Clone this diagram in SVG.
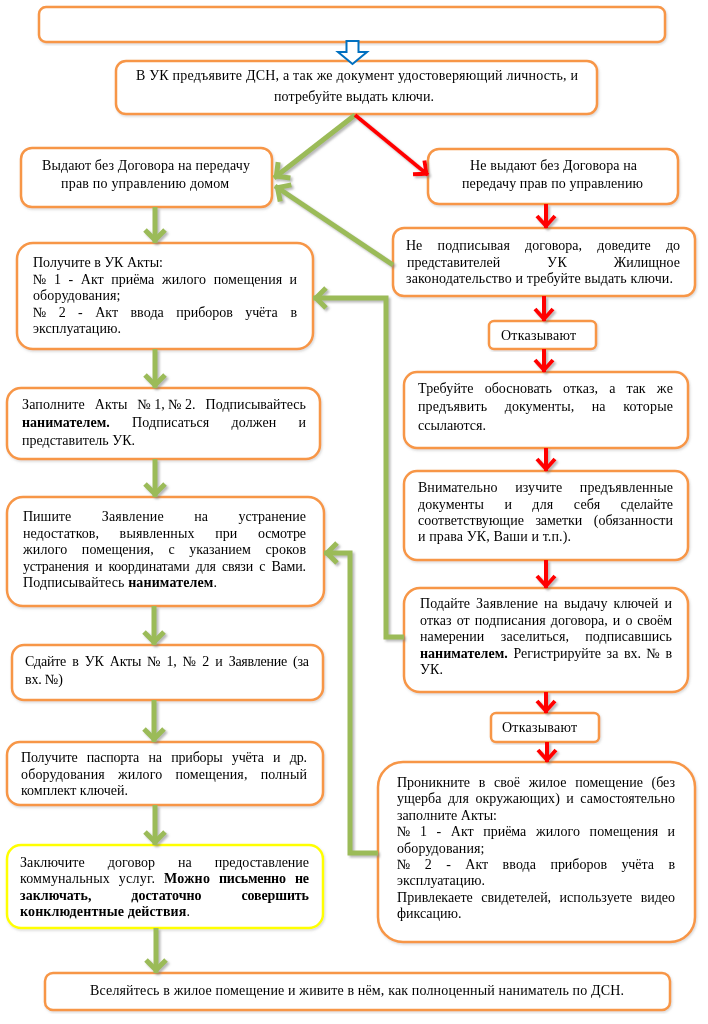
<svg xmlns="http://www.w3.org/2000/svg" width="708" height="1024" viewBox="0 0 708 1024">
<defs>
<style>
.bx{fill:#fff;stroke:#F79646;stroke-width:2.5}
.yb{fill:#fff;stroke:#FFFF00;stroke-width:2.5}
.t{font-family:"Liberation Serif","Times New Roman",serif;font-size:14px;fill:#000}
.b{font-weight:bold}
.g{fill:none;stroke:#9BBB59;stroke-width:5}
.r{fill:none;stroke:#FF0000;stroke-width:4}
</style>
<filter id="sh" x="-20%" y="-20%" width="140%" height="140%">
<feDropShadow dx="2" dy="2" stdDeviation="1" flood-color="#808080" flood-opacity="0.55"/>
</filter>
<filter id="bs" x="-5%" y="-5%" width="110%" height="115%">
<feDropShadow dx="1" dy="1.5" stdDeviation="1" flood-color="#808080" flood-opacity="0.3"/>
</filter>
<marker id="ag" markerUnits="userSpaceOnUse" markerWidth="20" markerHeight="24" refX="0" refY="0" orient="auto" overflow="visible">
<path d="M-13,-10 L-3,0 L-13,10" fill="none" stroke="#9BBB59" stroke-width="5"/>
</marker>
<marker id="ar" markerUnits="userSpaceOnUse" markerWidth="20" markerHeight="24" refX="0" refY="0" orient="auto" overflow="visible">
<path d="M-12,-9 L-2,0 L-12,9" fill="none" stroke="#FF0000" stroke-width="4"/>
</marker>
</defs>
<rect width="708" height="1024" fill="#fff"/>

<g id="n0" filter="url(#bs)"><rect class="bx" x="39" y="7" width="626" height="35" rx="7"/></g>

<g id="n1" filter="url(#bs)"><rect class="bx" x="116" y="61" width="481" height="53" rx="10"/>
<text class="t" x="136" y="80" textLength="442" lengthAdjust="spacing">В УК предъявите ДСН, а так же документ удостоверяющий личность, и</text>
<text class="t" x="274" y="101" textLength="160" lengthAdjust="spacing">потребуйте выдать ключи.</text></g>

<g id="n2" filter="url(#bs)"><rect class="bx" x="21" y="148" width="251" height="59" rx="11"/>
<text class="t" x="42" y="170" textLength="208" lengthAdjust="spacing">Выдают без Договора на передачу</text>
<text class="t" x="61" y="188" textLength="168" lengthAdjust="spacing">прав по управлению домом</text></g>

<g id="n3" filter="url(#bs)"><rect class="bx" x="428" y="149" width="250" height="55" rx="11"/>
<text class="t" x="470" y="170" textLength="167" lengthAdjust="spacing">Не выдают без Договора на</text>
<text class="t" x="462" y="188" textLength="181" lengthAdjust="spacing">передачу прав по управлению</text></g>

<g id="n4" filter="url(#bs)"><rect class="bx" x="393" y="228" width="302" height="68" rx="11"/>
<text class="t" x="406" y="250" textLength="16.3" lengthAdjust="spacing">Не</text>
<text class="t" x="437.6" y="250" textLength="72.3" lengthAdjust="spacing">подписывая</text>
<text class="t" x="525.1" y="250" textLength="56.9" lengthAdjust="spacing">договора,</text>
<text class="t" x="597.3" y="250" textLength="53.5" lengthAdjust="spacing">доведите</text>
<text class="t" x="666" y="250" textLength="14" lengthAdjust="spacing">до</text>
<text class="t" x="407" y="267" textLength="93.2" lengthAdjust="spacing">представителей</text>
<text class="t" x="547" y="267" textLength="19.9" lengthAdjust="spacing">УК</text>
<text class="t" x="613.8" y="267" textLength="66.2" lengthAdjust="spacing">Жилищное</text>
<text class="t" x="406" y="283" textLength="267" lengthAdjust="spacing">законодательство и требуйте выдать ключи.</text></g>

<g id="n5" filter="url(#bs)"><rect class="bx" x="489" y="321" width="107" height="28" rx="5"/>
<text class="t" x="501" y="340" textLength="75" lengthAdjust="spacing">Отказывают</text></g>

<g id="n6" filter="url(#bs)"><rect class="bx" x="404" y="372" width="284" height="76" rx="13"/>
<text class="t" x="418" y="393" textLength="55.5" lengthAdjust="spacing">Требуйте</text>
<text class="t" x="484.7" y="393" textLength="67.1" lengthAdjust="spacing">обосновать</text>
<text class="t" x="563" y="393" textLength="35.1" lengthAdjust="spacing">отказ,</text>
<text class="t" x="609.2" y="393" textLength="6.2" lengthAdjust="spacing">а</text>
<text class="t" x="626.6" y="393" textLength="19" lengthAdjust="spacing">так</text>
<text class="t" x="656.7" y="393" textLength="16.3" lengthAdjust="spacing">же</text>
<text class="t" x="418" y="411" textLength="69.1" lengthAdjust="spacing">предъявить</text>
<text class="t" x="504.8" y="411" textLength="69.4" lengthAdjust="spacing">документы,</text>
<text class="t" x="591.8" y="411" textLength="13.7" lengthAdjust="spacing">на</text>
<text class="t" x="623.2" y="411" textLength="49.8" lengthAdjust="spacing">которые</text>
<text class="t" x="418" y="430" textLength="68" lengthAdjust="spacing">ссылаются.</text></g>

<g id="n7" filter="url(#bs)"><rect class="bx" x="404" y="471" width="284" height="89" rx="13"/>
<text class="t" x="418" y="492" textLength="79.5" lengthAdjust="spacing">Внимательно</text>
<text class="t" x="515.3" y="492" textLength="46.8" lengthAdjust="spacing">изучите</text>
<text class="t" x="579.8" y="492" textLength="93.2" lengthAdjust="spacing">предъявленные</text>
<text class="t" x="418" y="508.5" textLength="65.9" lengthAdjust="spacing">документы</text>
<text class="t" x="504.4" y="508.5" textLength="7.5" lengthAdjust="spacing">и</text>
<text class="t" x="532.3" y="508.5" textLength="21" lengthAdjust="spacing">для</text>
<text class="t" x="573.8" y="508.5" textLength="26.4" lengthAdjust="spacing">себя</text>
<text class="t" x="620.6" y="508.5" textLength="52.4" lengthAdjust="spacing">сделайте</text>
<text class="t" x="418" y="525" textLength="105.9" lengthAdjust="spacing">соответствующие</text>
<text class="t" x="535.4" y="525" textLength="46.9" lengthAdjust="spacing">заметки</text>
<text class="t" x="593.8" y="525" textLength="79.2" lengthAdjust="spacing">(обязанности</text>
<text class="t" x="418" y="541" textLength="153" lengthAdjust="spacing">и права УК, Ваши и т.п.).</text></g>

<g id="n8" filter="url(#bs)"><rect class="bx" x="404" y="588" width="284" height="104" rx="16"/>
<text class="t" x="420" y="608" textLength="50" lengthAdjust="spacing">Подайте</text>
<text class="t" x="476.1" y="608" textLength="61.9" lengthAdjust="spacing">Заявление</text>
<text class="t" x="544.1" y="608" textLength="13.7" lengthAdjust="spacing">на</text>
<text class="t" x="563.9" y="608" textLength="43.6" lengthAdjust="spacing">выдачу</text>
<text class="t" x="613.6" y="608" textLength="44.8" lengthAdjust="spacing">ключей</text>
<text class="t" x="664.5" y="608" textLength="7.5" lengthAdjust="spacing">и</text>
<text class="t" x="420" y="624.5" textLength="31.6" lengthAdjust="spacing">отказ</text>
<text class="t" x="456.7" y="624.5" textLength="13" lengthAdjust="spacing">от</text>
<text class="t" x="474.8" y="624.5" textLength="70.9" lengthAdjust="spacing">подписания</text>
<text class="t" x="550.8" y="624.5" textLength="56.9" lengthAdjust="spacing">договора,</text>
<text class="t" x="612.8" y="624.5" textLength="7.5" lengthAdjust="spacing">и</text>
<text class="t" x="625.4" y="624.5" textLength="7" lengthAdjust="spacing">о</text>
<text class="t" x="637.3" y="624.5" textLength="34.7" lengthAdjust="spacing">своём</text>
<text class="t" x="420" y="641" textLength="64.3" lengthAdjust="spacing">намерении</text>
<text class="t" x="500.8" y="641" textLength="68.1" lengthAdjust="spacing">заселиться,</text>
<text class="t" x="585.3" y="641" textLength="86.7" lengthAdjust="spacing">подписавшись</text>
<text class="t b" x="420" y="657.5" textLength="87.8" lengthAdjust="spacing">нанимателем.</text>
<text class="t" x="513.4" y="657.5" textLength="87.6" lengthAdjust="spacing">Регистрируйте</text>
<text class="t" x="606.6" y="657.5" textLength="11.8" lengthAdjust="spacing">за</text>
<text class="t" x="624" y="657.5" textLength="17.1" lengthAdjust="spacing">вх.</text>
<text class="t" x="646.6" y="657.5" textLength="13.3" lengthAdjust="spacing">№</text>
<text class="t" x="665.4" y="657.5" textLength="6.6" lengthAdjust="spacing">в</text>
<text class="t" x="420" y="674" textLength="23" lengthAdjust="spacing">УК.</text></g>

<g id="n9" filter="url(#bs)"><rect class="bx" x="491" y="713" width="108" height="29" rx="5"/>
<text class="t" x="502" y="732" textLength="75" lengthAdjust="spacing">Отказывают</text></g>

<g id="n10" filter="url(#bs)"><rect class="bx" x="378" y="762" width="317" height="180" rx="25"/>
<text class="t" x="397" y="787" textLength="73" lengthAdjust="spacing">Проникните</text>
<text class="t" x="478.7" y="787" textLength="6.6" lengthAdjust="spacing">в</text>
<text class="t" x="494" y="787" textLength="26" lengthAdjust="spacing">своё</text>
<text class="t" x="528.7" y="787" textLength="37.8" lengthAdjust="spacing">жилое</text>
<text class="t" x="575.2" y="787" textLength="67.7" lengthAdjust="spacing">помещение</text>
<text class="t" x="651.5" y="787" textLength="23.5" lengthAdjust="spacing">(без</text>
<text class="t" x="397" y="803.4" textLength="44.4" lengthAdjust="spacing">ущерба</text>
<text class="t" x="447.9" y="803.4" textLength="21" lengthAdjust="spacing">для</text>
<text class="t" x="475.4" y="803.4" textLength="84.4" lengthAdjust="spacing">окружающих)</text>
<text class="t" x="566.3" y="803.4" textLength="7.5" lengthAdjust="spacing">и</text>
<text class="t" x="580.3" y="803.4" textLength="94.7" lengthAdjust="spacing">самостоятельно</text>
<text class="t" x="397" y="819.8" textLength="100" lengthAdjust="spacing">заполните Акты:</text>
<text class="t" x="397" y="836.2" textLength="13.3" lengthAdjust="spacing">№</text>
<text class="t" x="419.9" y="836.2" textLength="7" lengthAdjust="spacing">1</text>
<text class="t" x="436.5" y="836.2" textLength="4.7" lengthAdjust="spacing">-</text>
<text class="t" x="450.8" y="836.2" textLength="22.8" lengthAdjust="spacing">Акт</text>
<text class="t" x="483.2" y="836.2" textLength="43.1" lengthAdjust="spacing">приёма</text>
<text class="t" x="535.9" y="836.2" textLength="44.2" lengthAdjust="spacing">жилого</text>
<text class="t" x="589.6" y="836.2" textLength="68.5" lengthAdjust="spacing">помещения</text>
<text class="t" x="667.5" y="836.2" textLength="7.5" lengthAdjust="spacing">и</text>
<text class="t" x="397" y="852.6" textLength="87.5" lengthAdjust="spacing">оборудования;</text>
<text class="t" x="397" y="869" textLength="13.3" lengthAdjust="spacing">№</text>
<text class="t" x="424.7" y="869" textLength="7" lengthAdjust="spacing">2</text>
<text class="t" x="446.2" y="869" textLength="4.7" lengthAdjust="spacing">-</text>
<text class="t" x="465.3" y="869" textLength="22.8" lengthAdjust="spacing">Акт</text>
<text class="t" x="502.6" y="869" textLength="33.4" lengthAdjust="spacing">ввода</text>
<text class="t" x="550.4" y="869" textLength="56.6" lengthAdjust="spacing">приборов</text>
<text class="t" x="621.4" y="869" textLength="32.5" lengthAdjust="spacing">учёта</text>
<text class="t" x="668.4" y="869" textLength="6.6" lengthAdjust="spacing">в</text>
<text class="t" x="397" y="885.4" textLength="88" lengthAdjust="spacing">эксплуатацию.</text>
<text class="t" x="397" y="901.8" textLength="75.8" lengthAdjust="spacing">Привлекаете</text>
<text class="t" x="481.2" y="901.8" textLength="69.9" lengthAdjust="spacing">свидетелей,</text>
<text class="t" x="559.5" y="901.8" textLength="72.8" lengthAdjust="spacing">используете</text>
<text class="t" x="640.7" y="901.8" textLength="34.3" lengthAdjust="spacing">видео</text>
<text class="t" x="397" y="918.2" textLength="64.5" lengthAdjust="spacing">фиксацию.</text></g>

<g id="n11" filter="url(#bs)"><rect class="bx" x="17" y="243" width="296" height="106" rx="16"/>
<text class="t" x="33" y="267" textLength="130" lengthAdjust="spacing">Получите в УК Акты:</text>
<text class="t" x="33" y="283.5" textLength="13.3" lengthAdjust="spacing">№</text>
<text class="t" x="53.9" y="283.5" textLength="7" lengthAdjust="spacing">1</text>
<text class="t" x="68.5" y="283.5" textLength="4.7" lengthAdjust="spacing">-</text>
<text class="t" x="80.8" y="283.5" textLength="22.8" lengthAdjust="spacing">Акт</text>
<text class="t" x="111.2" y="283.5" textLength="43.1" lengthAdjust="spacing">приёма</text>
<text class="t" x="161.9" y="283.5" textLength="44.2" lengthAdjust="spacing">жилого</text>
<text class="t" x="213.7" y="283.5" textLength="68.5" lengthAdjust="spacing">помещения</text>
<text class="t" x="289.5" y="283.5" textLength="7.5" lengthAdjust="spacing">и</text>
<text class="t" x="33" y="300" textLength="87.5" lengthAdjust="spacing">оборудования;</text>
<text class="t" x="33" y="316.5" textLength="13.3" lengthAdjust="spacing">№</text>
<text class="t" x="58.7" y="316.5" textLength="7" lengthAdjust="spacing">2</text>
<text class="t" x="78.1" y="316.5" textLength="4.7" lengthAdjust="spacing">-</text>
<text class="t" x="95.2" y="316.5" textLength="22.8" lengthAdjust="spacing">Акт</text>
<text class="t" x="130.4" y="316.5" textLength="33.4" lengthAdjust="spacing">ввода</text>
<text class="t" x="176.2" y="316.5" textLength="56.6" lengthAdjust="spacing">приборов</text>
<text class="t" x="245.2" y="316.5" textLength="32.5" lengthAdjust="spacing">учёта</text>
<text class="t" x="290.4" y="316.5" textLength="6.6" lengthAdjust="spacing">в</text>
<text class="t" x="33" y="333" textLength="88" lengthAdjust="spacing">эксплуатацию.</text></g>

<g id="n12" filter="url(#bs)"><rect class="bx" x="7" y="388" width="313" height="71" rx="14"/>
<text class="t" x="22" y="409" textLength="62.6" lengthAdjust="spacing">Заполните</text>
<text class="t" x="94.7" y="409" textLength="32.6" lengthAdjust="spacing">Акты</text>
<text class="t" x="137.4" y="409" textLength="58.1" lengthAdjust="spacing">№ 1, № 2.</text>
<text class="t" x="205.6" y="409" textLength="100.4" lengthAdjust="spacing">Подписывайтесь</text>
<text class="t b" x="22" y="427" textLength="87.8" lengthAdjust="spacing">нанимателем.</text>
<text class="t" x="132" y="427" textLength="77.3" lengthAdjust="spacing">Подписаться</text>
<text class="t" x="231.5" y="427" textLength="44.8" lengthAdjust="spacing">должен</text>
<text class="t" x="298.5" y="427" textLength="7.5" lengthAdjust="spacing">и</text>
<text class="t" x="22" y="445" textLength="113" lengthAdjust="spacing">представитель УК.</text></g>

<g id="n13" filter="url(#bs)"><rect class="bx" x="7" y="497" width="317" height="109" rx="16"/>
<text class="t" x="23" y="521" textLength="48.2" lengthAdjust="spacing">Пишите</text>
<text class="t" x="101.8" y="521" textLength="61.9" lengthAdjust="spacing">Заявление</text>
<text class="t" x="194.3" y="521" textLength="13.7" lengthAdjust="spacing">на</text>
<text class="t" x="238.6" y="521" textLength="67.4" lengthAdjust="spacing">устранение</text>
<text class="t" x="23" y="537.5" textLength="76" lengthAdjust="spacing">недостатков,</text>
<text class="t" x="119.6" y="537.5" textLength="75" lengthAdjust="spacing">выявленных</text>
<text class="t" x="215.2" y="537.5" textLength="22" lengthAdjust="spacing">при</text>
<text class="t" x="257.9" y="537.5" textLength="48.1" lengthAdjust="spacing">осмотре</text>
<text class="t" x="23" y="554" textLength="44.2" lengthAdjust="spacing">жилого</text>
<text class="t" x="81.8" y="554" textLength="72" lengthAdjust="spacing">помещения,</text>
<text class="t" x="168.4" y="554" textLength="6.2" lengthAdjust="spacing">с</text>
<text class="t" x="189.2" y="554" textLength="61.6" lengthAdjust="spacing">указанием</text>
<text class="t" x="265.5" y="554" textLength="40.5" lengthAdjust="spacing">сроков</text>
<text class="t" x="23" y="570.5" textLength="283" lengthAdjust="spacing" word-spacing="3">устранения и координатами для связи с Вами.</text>
<text class="t" x="23" y="587" textLength="194" lengthAdjust="spacing">Подписывайтесь <tspan class="b">нанимателем</tspan>.</text></g>

<g id="n14" filter="url(#bs)"><rect class="bx" x="12" y="645" width="311" height="55" rx="12"/>
<text class="t" x="25" y="666" textLength="284" lengthAdjust="spacing" word-spacing="3">Сдайте в УК Акты № 1, № 2 и Заявление (за</text>
<text class="t" x="25" y="684" textLength="38" lengthAdjust="spacing">вх. №)</text></g>

<g id="n15" filter="url(#bs)"><rect class="bx" x="7" y="742" width="316" height="63" rx="13"/>
<text class="t" x="21" y="762" textLength="286" lengthAdjust="spacing" word-spacing="6">Получите паспорта на приборы учёта и др.</text>
<text class="t" x="21" y="778.5" textLength="83.8" lengthAdjust="spacing">оборудования</text>
<text class="t" x="118" y="778.5" textLength="44.2" lengthAdjust="spacing">жилого</text>
<text class="t" x="175.4" y="778.5" textLength="72" lengthAdjust="spacing">помещения,</text>
<text class="t" x="260.7" y="778.5" textLength="46.3" lengthAdjust="spacing">полный</text>
<text class="t" x="21" y="795" textLength="107" lengthAdjust="spacing">комплект ключей.</text></g>

<g id="n16" filter="url(#bs)"><rect class="yb" x="7" y="845" width="316" height="83" rx="14"/>
<text class="t" x="20" y="867" textLength="64.7" lengthAdjust="spacing">Заключите</text>
<text class="t" x="107.8" y="867" textLength="47.2" lengthAdjust="spacing">договор</text>
<text class="t" x="178.1" y="867" textLength="13.7" lengthAdjust="spacing">на</text>
<text class="t" x="214.8" y="867" textLength="94.2" lengthAdjust="spacing">предоставление</text>
<text class="t" x="20" y="883.3" textLength="89.7" lengthAdjust="spacing">коммунальных</text>
<text class="t" x="118.7" y="883.3" textLength="36.3" lengthAdjust="spacing">услуг.</text>
<text class="t b" x="164" y="883.3" textLength="45.9" lengthAdjust="spacing">Можно</text>
<text class="t b" x="218.9" y="883.3" textLength="67.1" lengthAdjust="spacing">письменно</text>
<text class="t b" x="295" y="883.3" textLength="14" lengthAdjust="spacing">не</text>
<text class="t b" x="20" y="899.7" textLength="71.4" lengthAdjust="spacing">заключать,</text>
<text class="t b" x="131.3" y="899.7" textLength="70.3" lengthAdjust="spacing">достаточно</text>
<text class="t b" x="241.4" y="899.7" textLength="67.6" lengthAdjust="spacing">совершить</text>
<text class="t" x="20" y="916" textLength="170" lengthAdjust="spacing"><tspan class="b">конклюдентные действия</tspan>.</text></g>

<g id="n17" filter="url(#bs)"><rect class="bx" x="45" y="973" width="625" height="37" rx="8"/>
<text class="t" x="90" y="995" textLength="534" lengthAdjust="spacing">Вселяйтесь в жилое помещение и живите в нём, как полноценный наниматель по ДСН.</text></g>

<g id="connectors">
<polygon points="346.5,41 358.5,41 358.5,52 367,52 352.5,64 338,52 346.5,52" fill="#fff" stroke="#0070C0" stroke-width="2" stroke-linejoin="miter"/>
<g filter="url(#sh)">
<line class="g" x1="355" y1="115" x2="274" y2="178" marker-end="url(#ag)"/>
<line class="g" x1="393" y1="265" x2="275" y2="186" marker-end="url(#ag)"/>
<line class="g" x1="155" y1="207" x2="155" y2="243" marker-end="url(#ag)"/>
<line class="g" x1="155" y1="349" x2="155" y2="388" marker-end="url(#ag)"/>
<line class="g" x1="155" y1="459" x2="155" y2="497" marker-end="url(#ag)"/>
<line class="g" x1="154" y1="606" x2="154" y2="645" marker-end="url(#ag)"/>
<line class="g" x1="154" y1="700" x2="154" y2="742" marker-end="url(#ag)"/>
<line class="g" x1="155" y1="805" x2="155" y2="845" marker-end="url(#ag)"/>
<line class="g" x1="156" y1="928" x2="156" y2="973" marker-end="url(#ag)"/>
<polyline class="g" points="404,637 386,637 386,298 313,298" marker-end="url(#ag)"/>
<polyline class="g" points="378,853 350,853 350,553 324,553" marker-end="url(#ag)"/>
<line class="r" x1="355" y1="115" x2="428" y2="175" marker-end="url(#ar)"/>
<line class="r" x1="546" y1="204" x2="546" y2="228" marker-end="url(#ar)"/>
<line class="r" x1="544" y1="296" x2="544" y2="321" marker-end="url(#ar)"/>
<line class="r" x1="544" y1="349" x2="544" y2="372" marker-end="url(#ar)"/>
<line class="r" x1="546" y1="448" x2="546" y2="471" marker-end="url(#ar)"/>
<line class="r" x1="546" y1="560" x2="546" y2="588" marker-end="url(#ar)"/>
<line class="r" x1="546" y1="692" x2="546" y2="713" marker-end="url(#ar)"/>
<line class="r" x1="547" y1="742" x2="547" y2="762" marker-end="url(#ar)"/>
</g>
</g>
</svg>
